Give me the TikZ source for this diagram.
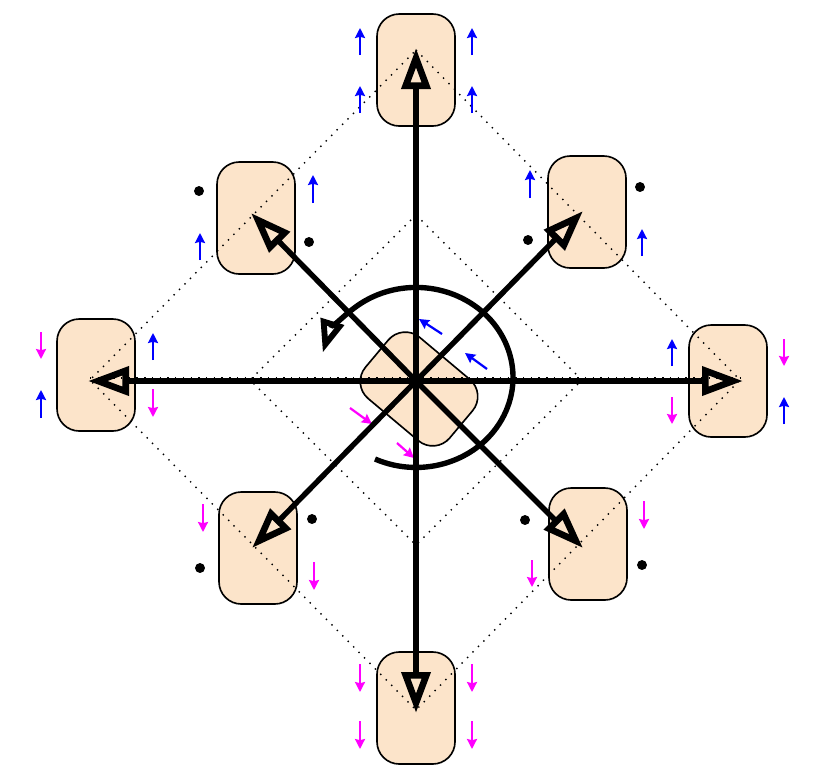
\documentclass[tikz,border=0pt]{standalone}
\usepackage{tikz}
\usetikzlibrary{arrows.meta}
\definecolor{cellfill}{HTML}{FCE4CA}
\definecolor{spinblue}{HTML}{0000FF}
\definecolor{spinpink}{HTML}{FF00FF}
\tikzset{
  cell/.style={
    rectangle, draw=black, fill=cellfill, rounded corners=19pt,
    minimum width=2.34cm, minimum height=3.36cm, line width=1.4pt
  },
  ring/.style={dash pattern=on 1.2pt off 5.4pt, line width=1.2pt},
  bighead/.style={-{Triangle[open, length=35pt, width=24pt, line width=5.6pt]}, line width=4.6pt},
  spinhead/.style={-{Triangle[open, length=28pt, width=20pt, line width=5pt]}, line width=4.6pt},
  spinup/.style={-{Stealth[length=8.5pt, width=8.5pt, inset=1pt]}, spinblue, line width=1.9pt},
  spindown/.style={-{Stealth[length=8.5pt, width=8.5pt, inset=1pt]}, spinpink, line width=1.9pt},
  site/.style={circle, fill=black, inner sep=0pt, minimum size=8.5pt},
}

\begin{document}
\begin{tikzpicture}[x=0.03cm, y=-0.03cm]
\useasboundingbox (0,0) rectangle (821,775);

% Cells
\node[cell] (north) at (416,70) {};
\node[cell] (northwest) at (256,218) {};
\node[cell] (northeast) at (587,212) {};
\node[cell] (west) at (96,375) {};
\node[cell] (east) at (728,381) {};
\node[cell] (southwest) at (258,548) {};
\node[cell] (southeast) at (588,544) {};
\node[cell] (south) at (416,708) {};
\node[cell, minimum width=2.4cm, minimum height=3.3cm, rotate=50] (hub) at (419,389) {};

% Dotted rings
\coordinate (center) at (416,381);
\coordinate (tipn) at (416,50);
\coordinate (tipe) at (740,380);
\coordinate (tips) at (416,710);
\coordinate (tipw) at (90,380);
\draw[ring] (tipn) -- (tipe) -- (tips) -- (tipw) -- cycle;
\coordinate (innern) at (416,215);
\coordinate (innere) at (582,380);
\coordinate (inners) at (416,545);
\coordinate (innerw) at (250,380);
\draw[ring] (innern) -- (innere) -- (inners) -- (innerw) -- cycle;
\draw[ring] (90,378) -- (740,378);

% Spins
\foreach \x/\a/\b in {360/55/28, 360/113/86, 472/55/28, 472/113/86, 41/418/390, 153/360/333,
  200/260/233, 313/203/175, 530/198/170, 642/256/229, 672/366/339, 784/424/397}
  \draw[spinup] (\x,\a) -- (\x,\b);
\foreach \x/\a/\b in {41/332/359, 153/389/417, 672/397/424, 784/339/366, 203/504/532, 314/562/590,
  644/501/529, 532/560/587, 360/664/692, 360/721/749, 472/664/692, 472/721/749}
  \draw[spindown] (\x,\a) -- (\x,\b);
\draw[spinup] (442,334) -- (419,319);
\draw[spinup] (487,369) -- (465,353);
\draw[spindown] (350,408) -- (372,424);
\draw[spindown] (397,443) -- (414,458);

% Empty sites
\foreach \x/\y/\name in {199/191/a, 309/242/b, 640/187/c, 528/240/d, 312/519/e, 200/568/f, 525/520/g, 642/565/h}
  \node[site] (site\name) at (\x,\y) {};

% Axes
\coordinate (headn) at (416,48);
\coordinate (heade) at (743,381);
\coordinate (heads) at (416,713);
\coordinate (headw) at (88,381);
\coordinate (headnw) at (251,213);
\coordinate (headne) at (583,211);
\coordinate (headsw) at (252,548);
\coordinate (headse) at (583,548);
\foreach \head in {headn, heade, heads, headw, headnw, headne, headsw, headse}
  \draw[bighead] (center) -- (\head);

% Rotation
\coordinate (spinstart) at (375,459);
\draw[spinhead] (spinstart) arc[start angle=-115, end angle=164, x radius=2.91cm, y radius=2.7cm];
\end{tikzpicture}
\end{document}
